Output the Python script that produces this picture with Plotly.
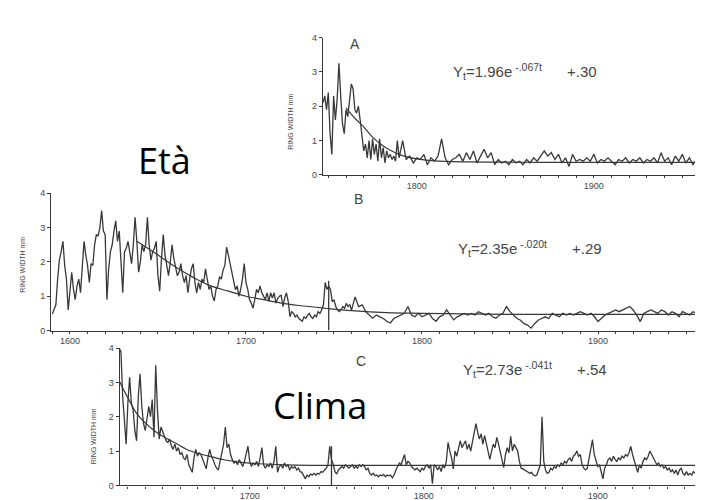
import plotly.graph_objects as go

# ---------------- DATA ----------------
# Panel A: ring widths (mm), annual 1747-1790, then every 2 years 1792-1966
a_start_annual = 1747
a_vals_annual = [2.1, 2.3, 1.9, 2.4, 1.2, 0.6, 2.3, 1.6, 2.2, 3.25,
                 2.3, 1.5, 1.2, 1.9, 1.7, 2.2, 2.65, 2.5, 1.9, 1.8,
                 2.0, 1.6, 1.2, 0.7, 0.9, 0.5, 1.0, 0.45, 1.05, 0.6,
                 0.9, 0.4, 1.05, 0.5, 0.8, 0.35, 0.7, 0.5, 0.6, 0.45,
                 0.55, 0.4, 1.0, 0.5]
a_start_bi = 1792
a_vals_bi = [1.0, 0.45, 0.55, 0.35, 0.5, 0.45, 0.6, 0.3, 0.5, 0.4,
             0.55, 1.05, 0.5, 0.3, 0.45, 0.5, 0.6, 0.4, 0.65, 0.45,
             0.7, 0.35, 0.55, 0.75, 0.5, 0.65, 0.3, 0.45, 0.35, 0.4,
             0.3, 0.45, 0.35, 0.4, 0.3, 0.45, 0.35, 0.5, 0.4, 0.55,
             0.7, 0.55, 0.65, 0.45, 0.6, 0.35, 0.5, 0.25, 0.6, 0.4,
             0.45, 0.4, 0.5, 0.4, 0.6, 0.35, 0.45, 0.4, 0.5, 0.4,
             0.3, 0.45, 0.4, 0.5, 0.35, 0.45, 0.4, 0.5, 0.35, 0.45,
             0.4, 0.5, 0.35, 0.65, 0.4, 0.5, 0.3, 0.55, 0.4, 0.6,
             0.35, 0.5, 0.3, 0.45, 0.4, 0.5, 0.35, 0.45]
a_fit_years = [1760, 1765, 1770, 1775, 1780, 1785, 1790, 1795, 1800, 1810, 1830, 1870, 1966]
a_fit_vals = [1.95, 1.65, 1.4, 1.1, 0.88, 0.72, 0.6, 0.52, 0.47, 0.41, 0.38, 0.37, 0.37]

# Panel B: annual 1590-1760, then every 2 years 1762-1966
b_start_annual = 1590
b_vals_annual = [0.48, 0.6, 0.75, 1.5, 2.05, 2.3, 2.6, 1.9, 1.5, 0.6,
                 1.2, 1.7, 1.2, 0.9, 1.3, 1.5, 1.1, 2.0, 2.6, 2.2,
                 1.9, 1.4, 1.95, 1.9, 2.5, 2.8, 2.75, 3.0, 3.5, 2.9,
                 2.8, 0.9, 1.8, 2.3, 2.5, 2.9, 3.2, 2.6, 2.9, 2.0,
                 1.1, 2.3, 2.4, 2.6, 2.2, 1.95, 2.5, 3.3, 2.6, 1.7,
                 2.0, 2.5, 2.3, 2.5, 3.3, 2.5, 2.05, 2.3, 2.4, 2.6,
                 1.6, 1.15, 2.1, 2.8, 2.2, 1.9, 1.6, 2.0, 2.5, 2.1,
                 1.8, 1.6, 1.7, 1.95, 1.6, 1.4, 1.6, 1.1, 1.5, 1.8,
                 1.95, 1.4, 1.1, 1.4, 1.2, 1.5, 1.4, 1.8, 1.5, 1.2,
                 1.3, 1.0, 0.86, 1.2, 1.3, 1.57, 1.5, 1.76, 1.9, 2.43,
                 2.2, 1.95, 1.6, 1.4, 1.19, 1.3, 1.0, 1.2, 1.5, 1.95,
                 1.4, 1.2, 0.9, 0.8, 0.65, 0.9, 1.2, 1.1, 1.3, 1.1,
                 1.0, 0.9, 1.1, 0.85, 1.1, 0.95, 1.1, 0.8, 0.93, 1.0,
                 1.03, 0.7, 0.95, 1.1, 0.85, 0.4, 0.55, 0.5, 0.4, 0.45,
                 0.35, 0.3, 0.27, 0.4, 0.35, 0.45, 0.5, 0.4, 0.35, 0.45,
                 0.4, 0.55, 0.5, 0.6, 0.75, 1.4, 1.2, 1.3, 1.2, 0.84,
                 0.9, 0.7, 0.6, 0.55, 0.6, 0.7, 0.65, 0.79, 0.7, 0.75,
                 0.6]
b_start_bi = 1762
b_vals_bi = [0.98, 0.7, 0.75, 0.55, 0.45, 0.36, 0.45, 0.4, 0.35, 0.27,
             0.22, 0.35, 0.4, 0.45, 0.5, 0.7, 0.45, 0.4, 0.5, 0.4,
             0.45, 0.5, 0.35, 0.27, 0.4, 0.45, 0.6, 0.45, 0.31, 0.4,
             0.45, 0.5, 0.45, 0.5, 0.45, 0.55, 0.5, 0.45, 0.5, 0.4,
             0.36, 0.45, 0.5, 0.7, 0.55, 0.45, 0.35, 0.3, 0.2, 0.16,
             0.07, 0.2, 0.3, 0.35, 0.4, 0.35, 0.5, 0.45, 0.4, 0.5,
             0.45, 0.5, 0.45, 0.5, 0.55, 0.5, 0.45, 0.5, 0.4, 0.26,
             0.35, 0.45, 0.5, 0.55, 0.6, 0.55, 0.6, 0.65, 0.7, 0.6,
             0.45, 0.26, 0.5, 0.55, 0.6, 0.55, 0.5, 0.6, 0.55, 0.45,
             0.55, 0.5, 0.4, 0.55, 0.5, 0.45, 0.55, 0.5, 0.45, 0.6,
             0.5, 0.65, 0.55]
b_fit_years = [1638, 1650, 1660, 1670, 1680, 1690, 1700, 1710, 1720, 1730, 1745, 1760, 1780, 1800, 1850, 1966]
b_fit_vals = [2.6, 2.2, 1.85, 1.55, 1.3, 1.15, 1.0, 0.9, 0.8, 0.73, 0.65, 0.58, 0.52, 0.5, 0.47, 0.47]

# Panel C: annual 1625-1966
c_start = 1625
c_vals = [4.0, 3.9, 2.6, 1.9, 1.2,
          2.4, 3.15, 2.4, 2.2, 1.6, 1.3, 2.6, 3.25, 2.3, 1.8,
          1.6, 2.0, 2.3, 2.0, 2.5, 1.4, 3.5, 2.2, 1.35, 1.7,
          1.55, 1.4, 1.3, 1.25, 1.35, 1.15, 1.05, 1.2, 1.0, 1.1,
          0.9, 0.95, 0.8, 0.75, 0.9, 0.6, 0.5, 0.38, 0.8, 1.05,
          0.85, 0.95, 0.9, 0.75, 0.6, 0.48, 0.8, 1.05, 0.85, 0.75,
          0.6, 0.5, 0.45, 0.7, 0.85, 1.2, 1.7, 1.1, 1.2, 0.9,
          0.75, 0.65, 0.7, 0.6, 0.75, 0.65, 0.55, 0.7, 0.9, 1.14,
          0.7, 0.55, 0.65, 0.6, 0.7, 0.55, 0.8, 1.1, 0.6, 0.5,
          0.6, 0.55, 0.65, 0.5, 0.7, 1.14, 0.38, 0.55, 0.6, 0.5,
          0.65, 0.55, 0.6, 0.45, 0.55, 0.5, 0.55, 0.45, 0.5, 0.4,
          0.38, 0.3, 0.19, 0.3, 0.25, 0.33, 0.3, 0.35, 0.3, 0.35,
          0.33, 0.4, 0.38, 0.45, 0.5, 0.6, 1.14, 0.75, 0.62, 0.4,
          0.33, 0.45, 0.5, 0.55, 0.5, 0.6, 0.55, 0.5, 0.55, 0.6,
          0.5, 0.55, 0.5, 0.6, 0.55, 0.6, 0.55, 0.45, 0.5, 0.35,
          0.3, 0.35, 0.28, 0.3, 0.25, 0.3, 0.28, 0.32, 0.25, 0.3,
          0.28, 0.3, 0.22, 0.3, 0.45, 0.55, 0.65, 0.6, 0.75, 0.9,
          0.6, 0.7, 0.65, 0.55, 0.5, 0.45, 0.5, 0.45, 0.4, 0.5,
          0.45, 0.55, 0.6, 0.5, 0.6, 0.05, 0.6, 0.55, 0.45, 0.55,
          0.4, 0.6, 0.5, 0.7, 1.25, 1.0, 0.8, 0.48, 1.0, 0.85,
          1.05, 1.3, 1.1, 1.2, 1.3, 1.05, 1.2, 1.0, 1.3, 1.5,
          1.8, 1.55, 1.35, 1.5, 1.2, 1.45, 1.2, 0.95, 0.76, 1.0,
          1.2, 1.1, 1.4, 1.2, 1.0, 0.8, 0.52, 0.9, 1.1, 0.95,
          1.43, 1.0, 1.2, 1.1, 1.0, 0.7, 0.5, 0.48, 0.45, 0.4,
          0.38, 0.35, 0.38, 0.3, 0.28, 0.3, 0.45, 0.6, 2.0, 0.7,
          0.45, 0.35, 0.38, 0.5, 0.45, 0.55, 0.5, 0.6, 0.55, 0.65,
          0.6, 0.7, 0.65, 0.75, 0.8, 0.7, 0.85, 0.9, 1.0, 0.85,
          0.9, 0.6, 0.5, 0.45, 0.5, 0.75, 1.0, 1.33, 0.9, 0.7,
          0.55, 0.6, 0.4, 0.19, 0.5, 0.6, 0.75, 0.8, 0.7, 0.85,
          0.75, 0.7, 0.8, 0.75, 0.85, 0.8, 0.9, 0.85, 0.95, 1.14,
          0.9, 0.75, 0.55, 0.38, 0.6, 0.5, 0.7, 0.8, 0.75, 0.85,
          1.0, 0.9, 0.8, 0.7, 0.6, 0.65, 0.55, 0.6, 0.5, 0.55,
          0.45, 0.5, 0.4, 0.45, 0.35, 0.45, 0.3, 0.45, 0.5, 0.35,
          0.3, 0.4, 0.3, 0.35, 0.3, 0.4, 0.35, 0.45, 0.4, 0.5,
          0.45, 0.55, 0.5, 0.45, 0.5, 0.55, 0.5]
c_fit_years = [1625, 1630, 1635, 1640, 1645, 1650, 1657, 1666, 1676, 1686, 1695, 1705, 1720, 1760, 1966]
c_fit_vals = [3.05, 2.55, 2.1, 1.82, 1.6, 1.43, 1.24, 1.0, 0.86, 0.74, 0.67, 0.63, 0.6, 0.58, 0.58]

# vertical marker line (year 1747) drawn in panels B and C
marker_year = 1747
marker_top_b = 1.45
marker_top_c = 1.14

y_ticks = [0, 1, 2, 3, 4]
x_ticks_a = [1800, 1900]
x_ticks_b = [1600, 1700, 1800, 1900]
x_ticks_c = [1700, 1800, 1900]

equations = {
    "A": "Y<sub>t</sub>=1.96e<sup> -.067t</sup>      +.30",
    "B": "Y<sub>t</sub>=2.35e<sup> -.020t</sup>      +.29",
    "C": "Y<sub>t</sub>=2.73e<sup> -.041t</sup>      +.54",
}
y_title = "RING WIDTH mm"

# ---------------- FIGURE ----------------
W, H = 703, 500
INK = "#383838"
TXT = "#454545"


def years(start, n, step=1):
    return list(range(start, start + n * step, step))


a_x = years(a_start_annual, len(a_vals_annual)) + years(a_start_bi, len(a_vals_bi), 2)
a_y = a_vals_annual + a_vals_bi
b_x = years(b_start_annual, len(b_vals_annual)) + years(b_start_bi, len(b_vals_bi), 2)
b_y = b_vals_annual + b_vals_bi
c_x = years(c_start, len(c_vals))
c_y = c_vals

fig = go.Figure()
line = dict(color=INK, width=1.3)
fit_line = dict(color=INK, width=1.2, shape="spline")

fig.add_trace(go.Scatter(x=a_x, y=a_y, mode="lines", line=line, xaxis="x", yaxis="y"))
fig.add_trace(go.Scatter(x=a_fit_years, y=a_fit_vals, mode="lines", line=fit_line, xaxis="x", yaxis="y"))

fig.add_trace(go.Scatter(x=b_x, y=b_y, mode="lines", line=line, xaxis="x2", yaxis="y2"))
fig.add_trace(go.Scatter(x=b_fit_years, y=b_fit_vals, mode="lines", line=fit_line, xaxis="x2", yaxis="y2"))
fig.add_trace(go.Scatter(x=[marker_year, marker_year], y=[0, marker_top_b], mode="lines", line=line, xaxis="x2", yaxis="y2"))

fig.add_trace(go.Scatter(x=c_x, y=c_y, mode="lines", line=line, xaxis="x3", yaxis="y3"))
fig.add_trace(go.Scatter(x=c_fit_years, y=c_fit_vals, mode="lines", line=fit_line, xaxis="x3", yaxis="y3"))
fig.add_trace(go.Scatter(x=[marker_year, marker_year], y=[0, marker_top_c], mode="lines", line=line, xaxis="x3", yaxis="y3"))


def px(x):
    return x / W


def py(y):
    return 1 - y / H


tickfont = dict(family="Liberation Sans, Arial, sans-serif", size=9, color=TXT)


def xaxis(dom, rng, ticks, anchor):
    return dict(domain=dom, range=rng, anchor=anchor, showgrid=False, zeroline=False,
                showline=True, linecolor=INK, linewidth=1.3, ticks="outside", ticklen=2,
                tickcolor=INK, tickwidth=1, tickvals=ticks, tickfont=tickfont,
                minor=dict(dtick=10, tick0=1600, ticks="outside", ticklen=2, tickcolor=INK),
                fixedrange=True)


def yaxis(dom, anchor):
    return dict(domain=dom, range=[0, 4], anchor=anchor, showgrid=False, zeroline=False,
                showline=True, linecolor=INK, linewidth=1.3, ticks="outside", ticklen=3,
                tickcolor=INK, tickvals=y_ticks, tickfont=tickfont, fixedrange=True)


# pixel geometry of each panel
fig.update_layout(
    xaxis=xaxis([px(315), 1.0], [1747, 1966.2], x_ticks_a, "y"),
    yaxis=yaxis([py(165.3), py(25)], "x"),
    xaxis2=xaxis([px(43.3), 1.0], [1589.4, 1964.2], x_ticks_b, "y2"),
    yaxis2=yaxis([py(324), py(184)], "x2"),
    xaxis3=xaxis([px(111.7), 1.0], [1625.3, 1965.1], x_ticks_c, "y3"),
    yaxis3=yaxis([py(482), py(342)], "x3"),
)

ann = []
lab_font = dict(family="Liberation Sans, Arial, sans-serif", size=14, color=TXT)
eq_font = dict(family="Liberation Sans, Arial, sans-serif", size=15, color=TXT)
yt_font = dict(family="Liberation Sans, Arial, sans-serif", size=7, color=TXT)
for lab, (lx, ly) in {"A": (347, 32), "B": (350, 190), "C": (353, 355)}.items():
    ann.append(dict(text=lab, x=px(lx), y=py(ly), xref="paper", yref="paper",
                    showarrow=False, font=lab_font, xanchor="center", yanchor="middle"))
for lab, (ex, ey) in {"A": (443, 60), "B": (448, 240), "C": (453, 364)}.items():
    ann.append(dict(text=equations[lab], x=px(ex), y=py(ey), xref="paper", yref="paper",
                    showarrow=False, font=eq_font, xanchor="left", yanchor="middle"))
for (tx, ty) in [(283, 111), (15, 257), (85, 432)]:
    ann.append(dict(text=y_title, x=px(tx), y=py(ty), xref="paper", yref="paper",
                    showarrow=False, font=yt_font, textangle=-90,
                    xanchor="center", yanchor="middle"))

big = dict(family="Open Sans, Noto Sans, sans-serif", size=36, color="#000000")
ann.append(dict(text="Età", x=px(156), y=py(150), xref="paper", yref="paper",
                showarrow=False, font=big, xanchor="center", yanchor="middle"))
ann.append(dict(text="Clima", x=px(312), y=py(401), xref="paper", yref="paper",
                showarrow=False, font=big, xanchor="center", yanchor="middle"))

fig.update_layout(
    annotations=ann,
    width=W, height=H,
    margin=dict(l=0, r=0, t=0, b=0),
    paper_bgcolor="white", plot_bgcolor="rgba(0,0,0,0)",
    showlegend=False,
)

fig.write_html("out.html", config={"displayModeBar": False})
